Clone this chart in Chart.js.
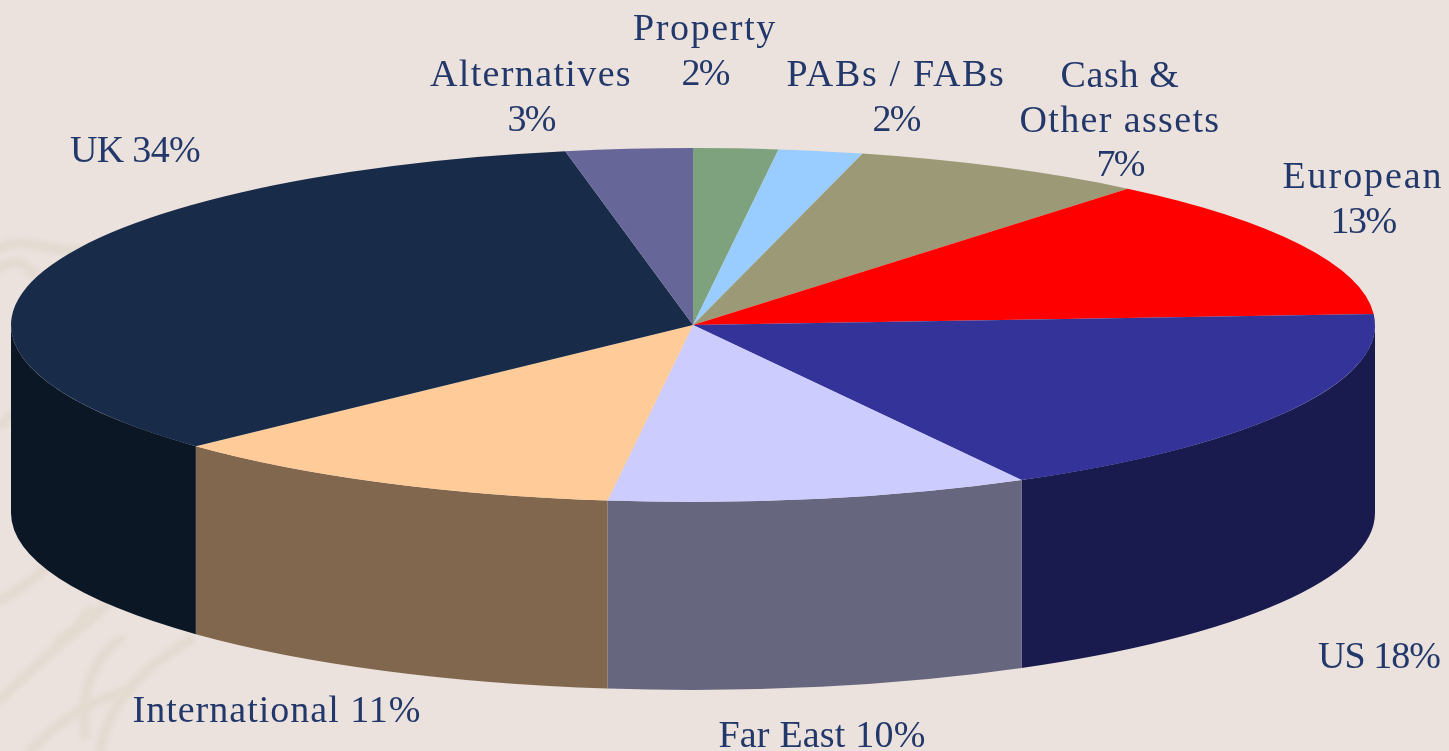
<!DOCTYPE html>
<html><head><meta charset="utf-8">
<style>html,body{margin:0;padding:0;background:#EBE1DD;overflow:hidden}#wrap{position:relative;width:1449px;height:751px}canvas{display:block}</style>
<script src="https://cdn.jsdelivr.net/npm/chart.js@4"></script>
</head><body><div id="wrap"><canvas id="c" width="1449" height="751"></canvas></div>
<script>
const categories = ["Property","PABs / FABs","Cash & Other assets","European","US","Far East","International","UK","Alternatives"];
const values = [2,2,7,13,18,10,11,34,3];
const topColors = ["#7DA27D","#99CCFF","#9C9A76","#FF0000","#333399","#CCCCFF","#FFCC99","#182C4A","#666699"];
const sideColors = ["#3F513F","#4D6680","#4E4D3B","#800000","#191A4D","#66667F","#80674D","#0C1725","#33334D"];
const labelLines = [["Property","2%"],["PABs / FABs","2%"],["Cash &","Other assets","7%"],["European","13%"],["US 18%"],["Far East 10%"],["International 11%"],["UK 34%"],["Alternatives","3%"]];
const labelLineWidths = [[144,47],[219,47],[119,201,47],[161,65],[122],[207],[289],[130],[202,47]];
const labelCentreX = [705,896,1120,1363,1379,822,277,135,531];
const labelFirstBaseline = [40,86,87,188,668,747,722,162,86];
const lineGap = 44.5;
const tilt = 0.2595, depth = 188, radius = 682;

const watermark = {id:'watermark',beforeDraw(chart){
  const c=chart.ctx;c.save();c.strokeStyle='#E3DAD0';c.lineCap='round';c.lineWidth=9;c.filter='blur(2px)';
  const curves=[[0,248,30,232,60,262,100,246],[0,268,14,258,24,262,34,274],[0,425,8,420,12,416,16,410],
    [0,600,30,585,50,565,60,550],[60,640,90,625,110,600,125,585],[85,735,80,700,90,660,120,640],
    [0,700,40,660,70,640,90,610],[100,751,110,700,140,670,190,640],[30,751,60,720,90,700,130,690]];
  for(const p of curves){c.beginPath();c.moveTo(p[0],p[1]);c.bezierCurveTo(p[2],p[3],p[4],p[5],p[6],p[7]);c.stroke();}
  c.restore();
}};

const pie3d = {id:'pie3d',
  beforeDatasetsDraw(chart){
    const c=chart.ctx, arcs=chart.getDatasetMeta(0).data;
    arcs.forEach((a,i)=>{
      const {x,y,startAngle,endAngle,outerRadius}=a.getProps(['x','y','startAngle','endAngle','outerRadius'],true);
      const s=Math.max(startAngle,0), e=Math.min(endAngle,Math.PI);
      if(e<=s) return;
      const ry=outerRadius*tilt;
      c.save();c.beginPath();
      c.ellipse(x,y,outerRadius,ry,0,s,e,false);
      c.ellipse(x,y+depth,outerRadius,ry,0,e,s,true);
      c.closePath();c.fillStyle=sideColors[i];c.fill();c.restore();
    });
  },
  beforeDatasetDraw(chart){
    const a=chart.getDatasetMeta(0).data[0],c=chart.ctx;
    c.save();c.translate(a.x,a.y);c.scale(1,tilt);c.translate(-a.x,-a.y);
  },
  afterDatasetDraw(chart){chart.ctx.restore();},
  afterDatasetsDraw(chart){
    const c=chart.ctx;c.save();c.fillStyle='#22386A';c.font='38px "Liberation Serif"';c.textAlign='center';c.textBaseline='alphabetic';
    labelLines.forEach((ls,i)=>ls.forEach((t,j)=>{
      c.letterSpacing='0px';
      const natural=c.measureText(t).width;
      c.letterSpacing=((labelLineWidths[i][j]-natural)/t.length).toFixed(2)+'px';
      c.fillText(t,labelCentreX[i],labelFirstBaseline[i]+j*lineGap);
    }));
    c.restore();
  }
};

new Chart(document.getElementById('c'),{
  type:'pie',
  data:{labels:categories,datasets:[{data:values,backgroundColor:topColors,borderWidth:0,clip:false}]},
  options:{responsive:false,animation:false,radius:radius,
    layout:{padding:{left:0,top:0,right:63,bottom:101}},
    plugins:{legend:{display:false},tooltip:{enabled:false},title:{display:false}}},
  plugins:[watermark,pie3d]
});
</script></body></html>
